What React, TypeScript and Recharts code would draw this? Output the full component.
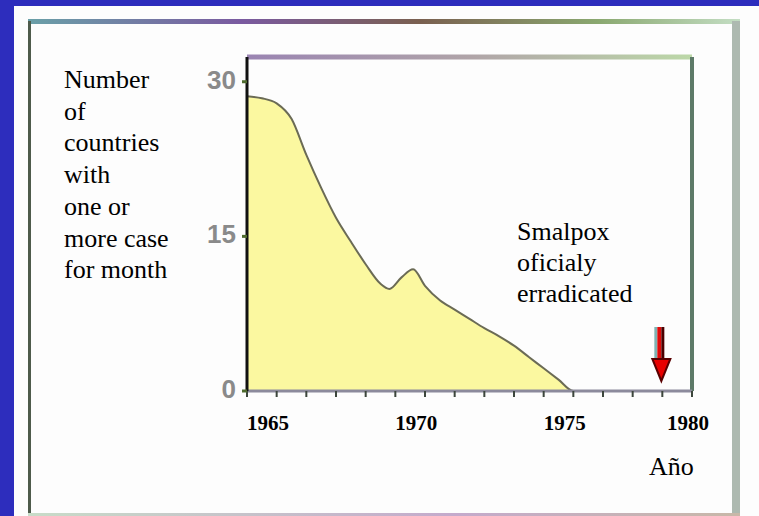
import React from 'react';
import { ComposedChart, Area, XAxis, YAxis, ReferenceLine, ReferenceDot } from 'recharts';

// countries with one or more case per month
const years = [
    1965, 1965.5, 1966, 1966.5, 1967, 1967.5, 1968, 1968.5, 1969, 1969.5, 1969.8,
    1970.2, 1970.6, 1971, 1971.5, 1972, 1972.5, 1973, 1973.5, 1974, 1974.5, 1975,
    1975.5, 1976, 1977, 1978, 1979, 1980
];
const counts = [
    28.6, 28.4, 27.9, 26.4, 22.9, 19.7, 16.8, 14.5, 12.3, 10.4, 9.9,
    11.0, 11.8, 10.2, 8.8, 7.9, 7.0, 6.1, 5.3, 4.4, 3.3, 2.2,
    1.1, 0, 0, 0, 0, 0
];

const yTicks = [0, 15, 30];
const tickYears = [
    1965, 1966, 1967, 1968, 1969, 1970, 1971, 1972, 1973, 1974, 1975, 1976, 1977, 1978, 1979, 1980
];
const labelYears = [1965, 1970, 1975, 1980];
const eradicationYear = 1979;

const yTitleLines = ['Number', 'of', 'countries', 'with', 'one or', 'more case', 'for month'];
const noteLines = ['Smalpox', 'oficialy', 'erradicated'];
const xTitle = 'Año';

const serif = '"Liberation Serif", "Times New Roman", serif';

const chartData = years.map((year, i) => ({ year, value: counts[i] }));

const YTick = (props: any) => {
    const { x, y, payload } = props;
    return (
        <text
            x={x - 4}
            y={y + 7}
            textAnchor="end"
            fontFamily='"Liberation Sans", Arial, sans-serif'
            fontWeight="bold"
            fontSize={26}
            fill="#8a8a8a"
        >
            {payload.value}
        </text>
    );
};

const XTick = (props: any) => {
    const { x, y, payload } = props;
    if (!labelYears.includes(payload.value)) return null;
    const last = payload.value === labelYears[labelYears.length - 1];
    return (
        <text
            x={last ? x - 4 : x}
            y={y + 31}
            textAnchor={last ? 'middle' : 'start'}
            fontFamily={serif}
            fontWeight="bold"
            fontSize={21}
            fill="#000"
        >
            {payload.value}
        </text>
    );
};

const ArrowShape = (props: any) => {
    const { cx, cy } = props;
    return (
        <g>
            <rect x={cx - 8} y={cy - 64} width={3} height={33} fill="#7fb2b2" />
            <rect x={cx - 5} y={cy - 64} width={4} height={33} fill="#e20a0a" />
            <rect x={cx - 1} y={cy - 64} width={3} height={33} fill="#4a0000" />
            <polygon
                points={`${cx - 10},${cy - 32} ${cx + 8},${cy - 32} ${cx - 1},${cy - 10}`}
                fill="#e80000"
                stroke="#5a0000"
                strokeWidth={2}
            />
        </g>
    );
};

export default function App() {
    return (
        <div style={{ position: 'fixed', left: 0, top: 0, width: 759, height: 516, overflow: 'hidden' }}>
            <svg width={759} height={516} style={{ position: 'absolute', left: 0, top: 0 }}>
                <defs>
                    <linearGradient id="outerTop" x1="0" y1="0" x2="1" y2="0">
                        <stop offset="0" stopColor="#6aa0a8" />
                        <stop offset="0.3" stopColor="#7a5aa0" />
                        <stop offset="0.55" stopColor="#7a6050" />
                        <stop offset="0.8" stopColor="#8aa870" />
                        <stop offset="1" stopColor="#c4dec4" />
                    </linearGradient>
                    <linearGradient id="outerBottom" x1="0" y1="0" x2="1" y2="0">
                        <stop offset="0" stopColor="#c8dcc8" />
                        <stop offset="0.6" stopColor="#c4aacc" />
                        <stop offset="1" stopColor="#c8b8a8" />
                    </linearGradient>
                    <linearGradient id="plotTop" gradientUnits="userSpaceOnUse" x1="247" y1="0" x2="692" y2="0">
                        <stop offset="0" stopColor="#9a84b2" />
                        <stop offset="0.5" stopColor="#b0a4a8" />
                        <stop offset="1" stopColor="#bcd8a8" />
                    </linearGradient>
                </defs>
                <rect x={0} y={0} width={759} height={516} fill="#2d2dbd" />
                <rect x={14} y={6} width={745} height={510} fill="#fdfdfd" />
                <rect x={28} y={19} width={712} height={5} fill="url(#outerTop)" />
                <rect x={28} y={21} width={3} height={495} fill="#4e5b4b" />
                <rect x={732} y={21} width={8} height={495} fill="#adb9b0" />
                <rect x={28} y={513} width={712} height={3} fill="url(#outerBottom)" />
            </svg>

            <div style={{ position: 'absolute', left: 0, top: 0 }}>
                <ComposedChart
                    width={759}
                    height={516}
                    data={chartData}
                    margin={{ top: 57, right: 67, bottom: 85, left: 187 }}
                >
                    <XAxis
                        dataKey="year"
                        type="number"
                        domain={[1965, 1980]}
                        ticks={tickYears}
                        interval={0}
                        height={40}
                        axisLine={{ stroke: '#8c8a9c', strokeWidth: 3 }}
                        tickLine={{ stroke: '#3c463c', strokeWidth: 2 }}
                        tickSize={6}
                        tick={<XTick />}
                    />
                    <YAxis
                        type="number"
                        domain={[0, 32.4]}
                        ticks={yTicks}
                        interval={0}
                        width={60}
                        axisLine={{ stroke: '#111', strokeWidth: 3 }}
                        tickLine={{ stroke: '#4f6b2f', strokeWidth: 3 }}
                        tickSize={5}
                        tick={<YTick />}
                    />
                    <Area
                        type="monotone"
                        dataKey="value"
                        stroke="#6b6b55"
                        strokeWidth={2}
                        fill="#fbf8a0"
                        fillOpacity={1}
                        dot={false}
                        activeDot={false}
                        isAnimationActive={false}
                    />
                    <ReferenceLine y={32.4} stroke="url(#plotTop)" strokeWidth={5} />
                    <ReferenceLine x={1980} stroke="#5d7a68" strokeWidth={4} />
                    <ReferenceDot x={eradicationYear} y={0} r={1} shape={<ArrowShape />} />
                </ComposedChart>
            </div>

            <svg width={759} height={516} style={{ position: 'absolute', left: 0, top: 0, pointerEvents: 'none' }}>
                <text x={64} y={88} fontFamily={serif} fontSize={26} fill="#000">
                    {yTitleLines.map((line, i) => (
                        <tspan key={line} x={64} dy={i === 0 ? 0 : 31.7}>{line}</tspan>
                    ))}
                </text>
                <text x={517} y={240} fontFamily={serif} fontSize={26} fill="#000">
                    {noteLines.map((line, i) => (
                        <tspan key={line} x={517} dy={i === 0 ? 0 : 31}>{line}</tspan>
                    ))}
                </text>
                <text x={649} y={475} fontFamily={serif} fontSize={26} fill="#000">{xTitle}</text>
            </svg>
        </div>
    );
}
